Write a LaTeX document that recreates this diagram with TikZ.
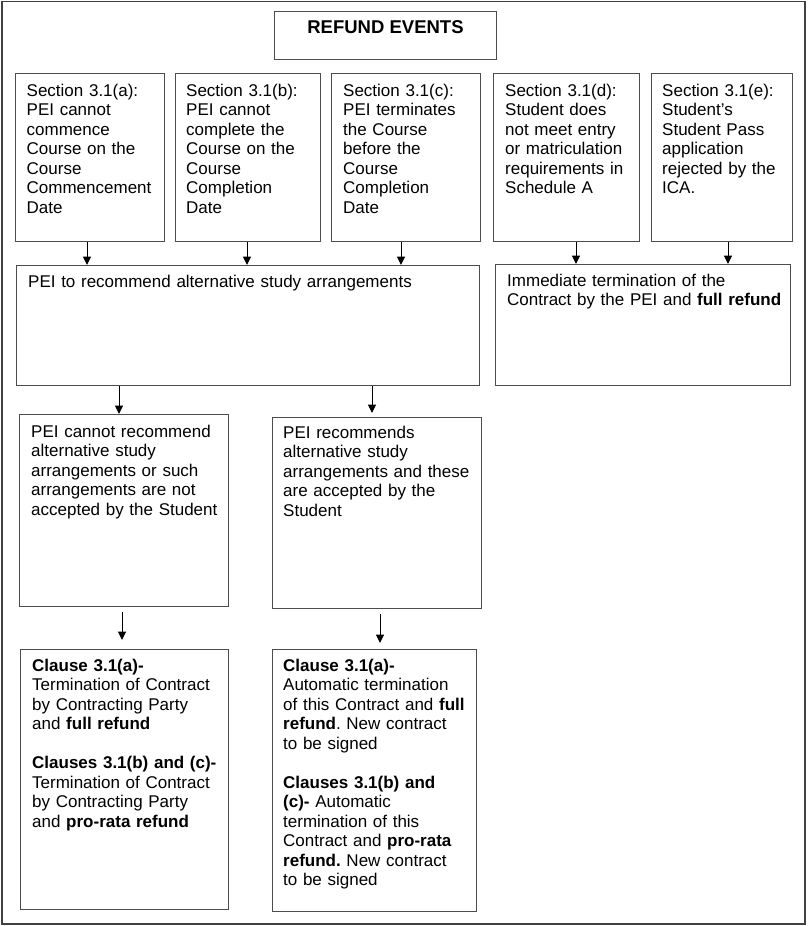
\documentclass[tikz,border=0pt]{standalone}
\usepackage{fontspec}
\setmainfont{Liberation Sans}
\usetikzlibrary{positioning,arrows.meta}
\frenchspacing

\begin{document}
\begin{tikzpicture}[x=1pt, y=-1pt,
		box/.style={draw=black!70, line width=1pt, anchor=north west, inner sep=0pt},
		boxtext/.style={anchor=base west, inner sep=0pt, align=left, font=\fontsize{17}{19.5}\selectfont},
		arr/.style={-{Triangle[length=8.5pt,width=8pt]}, line width=1pt}]
			\useasboundingbox (0,0) rectangle (807,926);
			\draw[black!75, line width=1.3pt] (2,1.5) rectangle (805,924);
			\node[box, minimum width=222pt, minimum height=48pt] (title) at (274,11) {};
			\node[anchor=base, inner sep=0pt, font=\bfseries\fontsize{18.5}{20}\selectfont] (titletext) at ([yshift=-22pt]title.north) {REFUND EVENTS};
			\node[box, minimum width=149pt, minimum height=168pt] (seca) at (15,73) {};
			\node[box, minimum width=145pt, minimum height=168pt] (secb) at (175,73) {};
			\node[box, minimum width=149pt, minimum height=168pt] (secc) at (331,73) {};
			\node[box, minimum width=146pt, minimum height=168pt] (secd) at (493,73) {};
			\node[box, minimum width=141pt, minimum height=168pt] (sece) at (651,73) {};
			\node[boxtext, text width=140pt] (secatext) at ([shift={(11.5pt,-23pt)}]seca.north west) {Section 3.1(a):\\PEI cannot\\commence\\Course on the\\Course\\Commencement\\Date};
			\node[boxtext, text width=136pt] (secbtext) at ([shift={(11pt,-23pt)}]secb.north west) {Section 3.1(b):\\PEI cannot\\complete the\\Course on the\\Course\\Completion\\Date};
			\node[boxtext, text width=140pt] (secctext) at ([shift={(12pt,-23pt)}]secc.north west) {Section 3.1(c):\\PEI terminates\\the Course\\before the\\Course\\Completion\\Date};
			\node[boxtext, text width=137pt] (secdtext) at ([shift={(12pt,-23pt)}]secd.north west) {Section 3.1(d):\\Student does\\not meet entry\\or matriculation\\requirements in\\Schedule A};
			\node[boxtext, text width=132pt] (secetext) at ([shift={(11pt,-23pt)}]sece.north west) {Section 3.1(e):\\Student’s\\Student Pass\\application\\rejected by the\\ICA.};
			\node[box, minimum width=463pt, minimum height=120pt] (rec) at (16,265) {};
			\node[boxtext, text width=440pt] (rectext) at ([shift={(12pt,-22pt)}]rec.north west) {PEI to recommend alternative study arrangements};
			\node[box, minimum width=295pt, minimum height=121pt] (imm) at (495,264) {};
			\node[boxtext, text width=280pt] (immtext) at ([shift={(12pt,-22pt)}]imm.north west) {Immediate termination of the\\Contract by the PEI and \textbf{full refund}};
			\node[box, minimum width=209pt, minimum height=192pt] (cannot) at (19,414) {};
			\node[boxtext, text width=196pt] (cannottext) at ([shift={(12pt,-23pt)}]cannot.north west) {PEI cannot recommend\\alternative study\\arrangements or such\\arrangements are not\\accepted by the Student};
			\node[box, minimum width=209pt, minimum height=191pt] (accept) at (272,417) {};
			\node[boxtext, text width=196pt] (accepttext) at ([shift={(11pt,-21pt)}]accept.north west) {PEI recommends\\alternative study\\arrangements and these\\are accepted by the\\Student};
			\node[box, minimum width=208pt, minimum height=260pt] (clsa) at (20,649) {};
			\node[boxtext, text width=196pt] (clsatext) at ([shift={(12pt,-22pt)}]clsa.north west) {\textbf{Clause 3.1(a)-}\\Termination of Contract\\by Contracting Party\\and \textbf{full refund}\\[19.5pt]\textbf{Clauses 3.1(b) and (c)-}\\Termination of Contract\\by Contracting Party\\and \textbf{pro-rata refund}};
			\node[box, minimum width=204pt, minimum height=262pt] (clsb) at (272,649) {};
			\node[boxtext, text width=192pt] (clsbtext) at ([shift={(11pt,-22pt)}]clsb.north west) {\textbf{Clause 3.1(a)-}\\Automatic termination\\of this Contract and \textbf{full}\\\textbf{refund}. New contract\\to be signed\\[19.5pt]\textbf{Clauses 3.1(b) and}\\\textbf{(c)-} Automatic\\termination of this\\Contract and \textbf{pro-rata}\\\textbf{refund.} New contract\\to be signed};
			\draw[arr] (seca.south -| 87,0) -- (rec.north -| 87,0);
			\draw[arr] (secb.south -| 247,0) -- (rec.north -| 247,0);
			\draw[arr] (secc.south -| 401,0) -- (rec.north -| 401,0);
			\draw[arr] (secd.south -| 576,0) -- (imm.north -| 576,0);
			\draw[arr] (sece.south -| 728,0) -- (imm.north -| 728,0);
			\draw[arr] (rec.south -| 119,0) -- (cannot.north -| 119,0);
			\draw[arr, shorten >=4pt] (rec.south -| 372,0) -- (accept.north -| 372,0);
			\draw[arr, shorten <=5pt, shorten >=9pt] (cannot.south -| 122,0) -- (clsa.north -| 122,0);
			\draw[arr, shorten <=5pt, shorten >=6pt] (accept.south -| 380,0) -- (clsb.north -| 380,0);
		\end{tikzpicture}
\end{document}
